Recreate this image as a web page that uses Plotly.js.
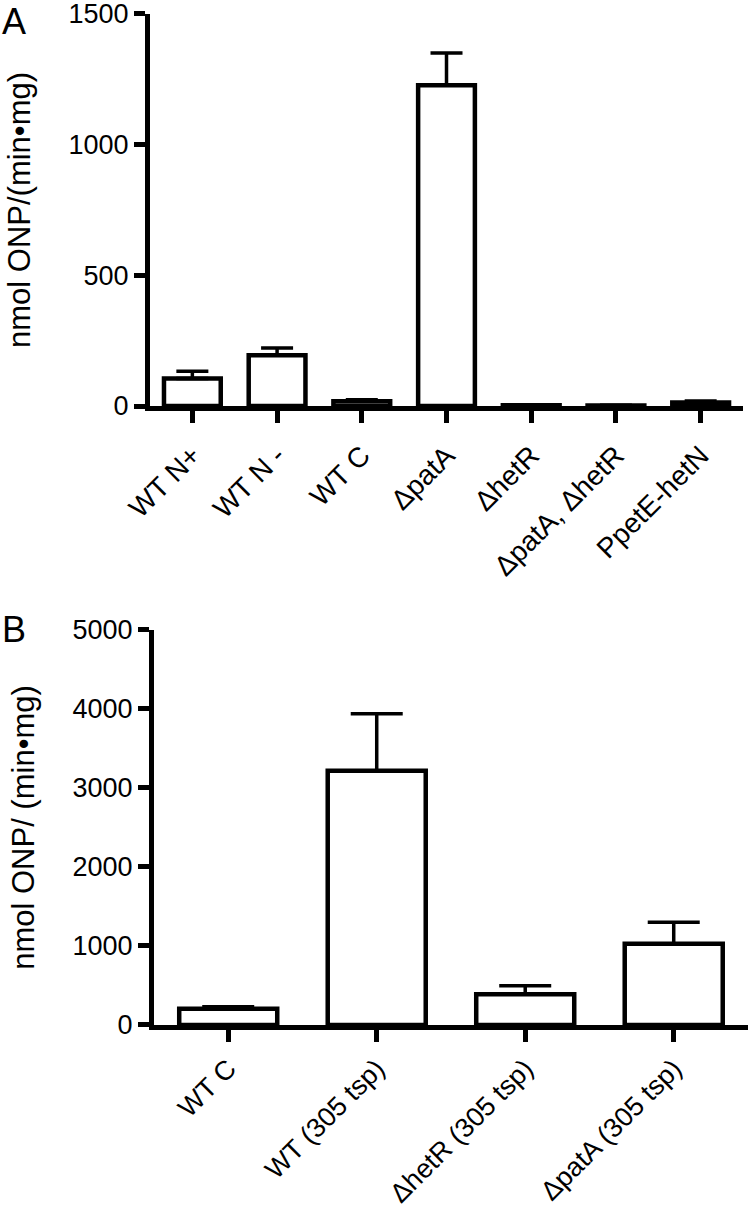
<!DOCTYPE html>
<html>
<head>
<meta charset="utf-8">
<script src="https://cdn.plot.ly/plotly-3.0.1.min.js"></script>
<style>
html,body{margin:0;padding:0;background:#fff;}
#chart{width:750px;height:1211px;}
</style>
</head>
<body>
<div id="chart"></div>
<script>
// Panel A data
var catsA = ["WT N+", "WT N -", "WT C", "\u0394patA", "\u0394hetR", "\u0394patA, \u0394hetR", "PpetE-hetN"];
var valsA = [105, 194, 18, 1227, 3, 2, 14];
var errA  = [28, 28, 6, 124, 1, 1, 5];
var ticksA = [0, 500, 1000, 1500];

// Panel B data
var catsB = ["WT C", "WT (305 tsp)", "\u0394hetR (305 tsp)", "\u0394patA (305 tsp)"];
var valsB = [205, 3219, 388, 1029];
var errB  = [25, 720, 110, 270];
var ticksB = [0, 1000, 2000, 3000, 4000, 5000];

var FONT = "Liberation Sans, Arial, Helvetica, sans-serif";

function zeros(n){ var a=[]; for(var i=0;i<n;i++) a.push(0); return a; }

var traceA = {
  type: "bar", x: catsA, y: valsA, xaxis: "x", yaxis: "y",
  width: 0.67,
  marker: {color: "#ffffff", line: {color: "#000000", width: 4.5}},
  error_y: {type: "data", array: errA, arrayminus: zeros(errA.length), symmetric: false,
            color: "#000000", thickness: 3.5, width: 16},
  hoverinfo: "x+y"
};
var traceB = {
  type: "bar", x: catsB, y: valsB, xaxis: "x2", yaxis: "y2",
  width: 0.66,
  marker: {color: "#ffffff", line: {color: "#000000", width: 4.5}},
  error_y: {type: "data", array: errB, arrayminus: zeros(errB.length), symmetric: false,
            color: "#000000", thickness: 3.5, width: 26},
  hoverinfo: "x+y"
};

function xax(domain, cats, anchor, standoff, fsize){
  return {
    domain: domain, anchor: anchor, type: "category",
    categoryorder: "array", categoryarray: cats,
    range: [-0.5, cats.length - 0.5],
    showline: true, linewidth: 5, linecolor: "#000",
    ticks: "outside", ticklen: 12, tickwidth: 5, tickcolor: "#000",
    tickangle: -45, tickfont: {family: FONT, size: fsize, color: "#000"},
    ticklabelstandoff: standoff, ticklabeloverflow: "allow",
    showgrid: false, zeroline: false, automargin: false, fixedrange: true
  };
}
function yax(domain, range, tv, anchor, title){
  return {
    domain: domain, anchor: anchor, range: range,
    tickvals: tv, ticktext: tv.map(String),
    showline: true, linewidth: 5, linecolor: "#000",
    ticks: "outside", ticklen: 11, tickwidth: 5, tickcolor: "#000",
    tickfont: {family: FONT, size: 27, color: "#000"},
    ticklabeloverflow: "allow",
    showgrid: false, zeroline: false, automargin: false, fixedrange: true,
    title: {text: title, font: {family: FONT, size: 31, color: "#000"}, standoff: 30}
  };
}

var layout = {
  width: 750, height: 1211,
  margin: {l: 0, r: 0, t: 0, b: 0},
  paper_bgcolor: "#fff", plot_bgcolor: "#fff",
  showlegend: false,
  font: {family: FONT, color: "#000"},
  xaxis: xax([0.2, 0.9907], catsA, "y", 5, 28),
  yaxis: yax([0.6647, 0.9885], [0, 1500], ticksA, "x", "nmol ONP/(min\u2022mg)"),
  xaxis2: xax([0.2053, 0.9973], catsB, "y2", 0, 27),
  yaxis2: yax([0.1536, 0.4798], [0, 5000], ticksB, "x2", "nmol ONP/ (min\u2022mg)"),
  annotations: [
    {text: "A", xref: "paper", yref: "paper", x: 0, y: 1.0, xanchor: "left", yanchor: "top",
     showarrow: false, font: {family: FONT, size: 36, color: "#000"}, xshift: 0, yshift: 1},
    {text: "B", xref: "paper", yref: "paper", x: 0, y: 1 - 615/1211, xanchor: "left", yanchor: "top",
     showarrow: false, font: {family: FONT, size: 36, color: "#000"}, xshift: 0, yshift: 8}
  ]
};

Plotly.newPlot("chart", [traceA, traceB], layout, {displayModeBar: false, staticPlot: true});
</script>
</body>
</html>
